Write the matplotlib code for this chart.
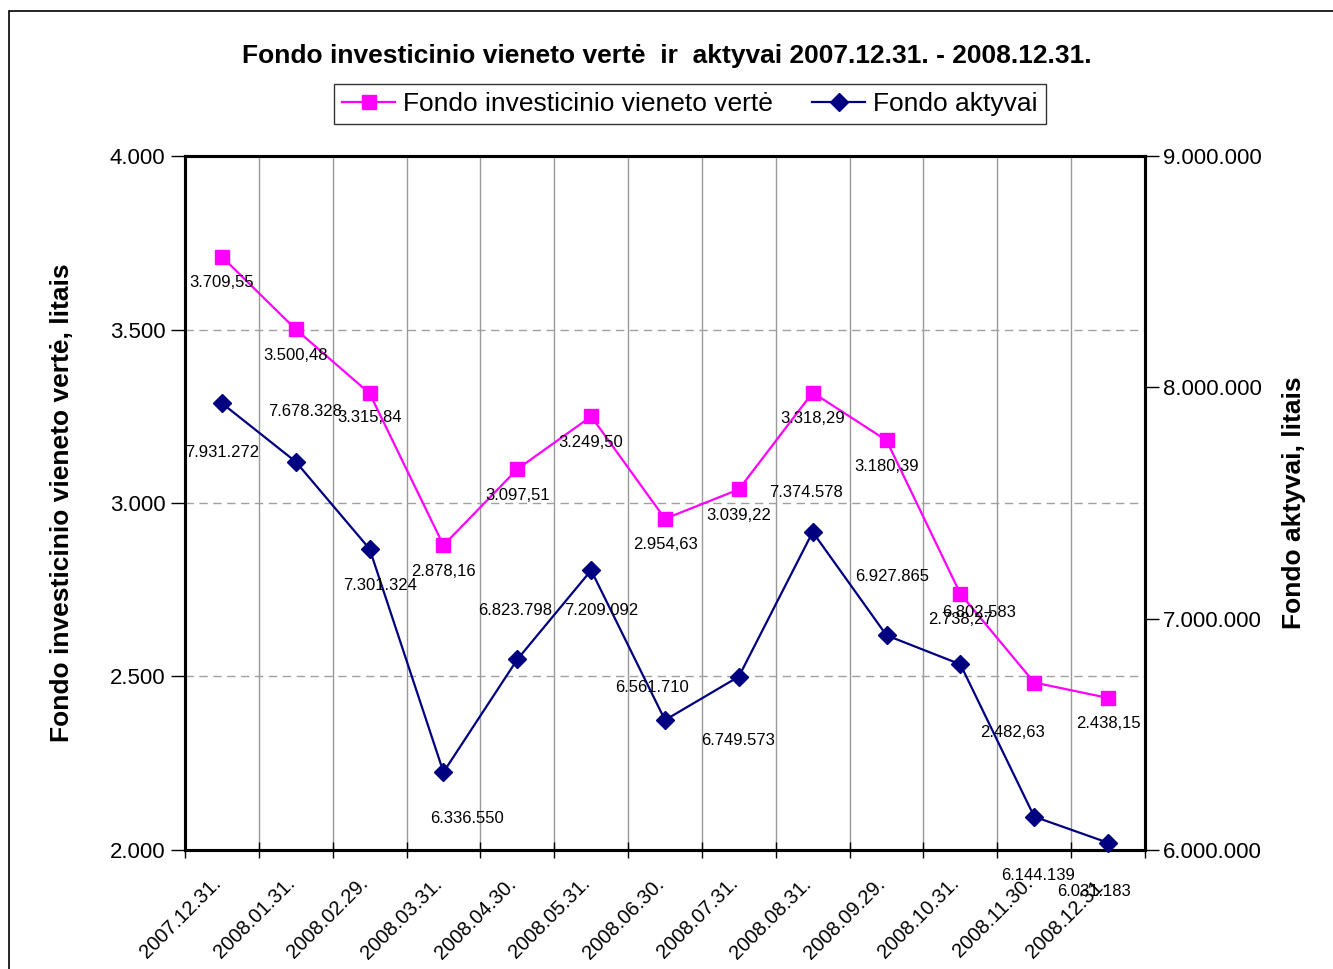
# -*- coding: utf-8 -*-
import matplotlib
matplotlib.use('Agg')
import matplotlib.pyplot as plt
import matplotlib as mpl
import matplotlib.transforms as mtransforms
from matplotlib.ticker import FuncFormatter, FixedLocator
from matplotlib.lines import Line2D
from matplotlib.patches import Rectangle

# duomenys
dates = ['2007.12.31.', '2008.01.31.', '2008.02.29.', '2008.03.31.', '2008.04.30.',
         '2008.05.31.', '2008.06.30.', '2008.07.31.', '2008.08.31.', '2008.09.29.',
         '2008.10.31.', '2008.11.30.', '2008.12.31.']
unit_value = [3709.55, 3500.48, 3315.84, 2878.16, 3097.51, 3249.50, 2954.63,
              3039.22, 3318.29, 3180.39, 2738.27, 2482.63, 2438.15]
assets = [7931272, 7678328, 7301324, 6336550, 6823798, 7209092, 6561710,
          6749573, 7374578, 6927865, 6802583, 6144139, 6031183]

# etikečių poslinkiai (pikseliais)
unit_offsets = [(0, -26), (0, -26), (0, -24), (0, -26), (0, -26), (0, -26), (0, -26),
                (0, -26), (0, -26), (0, -26), (0, -26), (-22, -50), (0, -26)]
asset_offsets = [(0, -49), (9, 50), (10, -37), (24, -46), (-2, 49), (10, -40), (-13, 33),
                 (-1, -64), (-7, 40), (6, 59), (19, 52), (4, -59), (-14, -49)]

MAGENTA = '#FF00FF'
NAVY = '#000080'


def fmt_int(v, pos=None):
    return '{:,.0f}'.format(v).replace(',', '.')


def fmt_dec(v):
    s = '{:,.2f}'.format(v)
    return s.replace(',', ' ').replace('.', ',').replace(' ', '.')


mpl.rc('font', family=['Liberation Sans', 'DejaVu Sans'], size=14)

fig = plt.figure(figsize=(13.33, 9.69), dpi=100)
ax = fig.add_axes([185 / 1333, 1 - 850 / 969, 960 / 1333, 694 / 969])
ax2 = ax.twinx()

# rėmelis
fig.patches.append(Rectangle((9 / 1333, -0.1), 1.2, 1 - 11 / 969 + 0.1,
                             transform=fig.transFigure, fill=False,
                             edgecolor='black', linewidth=1.2))

x = list(range(len(dates)))
ax.plot(x, unit_value, color=MAGENTA, linewidth=1.6, marker='s', markersize=10.5,
        zorder=3, clip_on=False)
ax2.plot(x, assets, color=NAVY, linewidth=1.6, marker='D', markersize=9,
         zorder=3, clip_on=False)

for i in x:
    ax.annotate(fmt_dec(unit_value[i]), (i, unit_value[i]), xytext=unit_offsets[i],
                textcoords='offset pixels', ha='center', va='center', fontsize=12)
    ax2.annotate(fmt_int(assets[i]), (i, assets[i]), xytext=asset_offsets[i],
                 textcoords='offset pixels', ha='center', va='center', fontsize=12)

ax.set_xlim(-0.5, len(dates) - 0.5)
ax.set_ylim(2000, 4000)
ax2.set_ylim(6000000, 9000000)

ax.set_xticks(x)
ax.set_xticklabels(dates, rotation=45, ha='right', va='center',
                   rotation_mode='anchor', fontsize=14.5)
ax.tick_params(axis='x', which='major', length=0, pad=22)
shift = mtransforms.ScaledTranslation(-4 / 100, 0, fig.dpi_scale_trans)
for lab in ax.get_xticklabels():
    lab.set_transform(lab.get_transform() + shift)
ax.xaxis.set_minor_locator(FixedLocator([i - 0.5 for i in range(len(dates) + 1)]))
ax.tick_params(axis='x', which='minor', direction='inout', length=12, width=1)
ax.grid(axis='x', which='minor', color='#999999', linewidth=1, linestyle='-')
ax.grid(axis='y', which='major', color='#A0A0A0', linewidth=1, linestyle=(0, (6, 4)))
ax.set_axisbelow(True)

ax.set_yticks([2000, 2500, 3000, 3500, 4000])
ax.yaxis.set_major_formatter(FuncFormatter(fmt_int))
ax.tick_params(axis='y', direction='out', length=10, width=1, labelsize=16, pad=4)
ax2.set_yticks([6000000, 7000000, 8000000, 9000000])
ax2.yaxis.set_major_formatter(FuncFormatter(fmt_int))
ax2.tick_params(axis='y', direction='out', length=10, width=1, labelsize=16, pad=3)

for a in (ax, ax2):
    for s in a.spines.values():
        s.set_linewidth(2.2)
        s.set_color('black')

ax.set_ylabel('Fondo investicinio vieneto vertė, litais', fontsize=19,
              fontweight='bold', va='center')
ax.yaxis.set_label_coords(-0.128, 0.5)
ax2.set_ylabel('Fondo aktyvai, litais', fontsize=19, fontweight='bold', va='center')
ax2.yaxis.set_label_coords(1.155, 0.5)

fig.suptitle('Fondo investicinio vieneto vertė  ir  aktyvai 2007.12.31. - 2008.12.31.',
             x=0.5, y=1 - 56 / 969, va='center', fontsize=19, fontweight='bold')

handles = [Line2D([], [], color=MAGENTA, linewidth=1.6, marker='s', markersize=10.5),
           Line2D([], [], color=NAVY, linewidth=1.6, marker='D', markersize=9)]
fig.legend(handles, ['Fondo investicinio vieneto vertė', 'Fondo aktyvai'],
           loc='center', bbox_to_anchor=(690 / 1333, 1 - 104 / 969), ncol=2,
           fontsize=19, frameon=True, fancybox=False, edgecolor='black',
           handlelength=2.0, columnspacing=1.5, borderpad=0.3, handletextpad=0.3,
           borderaxespad=0)
leg = fig.legends[0]
leg.get_frame().set_linewidth(1)

fig.savefig('out.png', dpi=100)
plt.close('all')
